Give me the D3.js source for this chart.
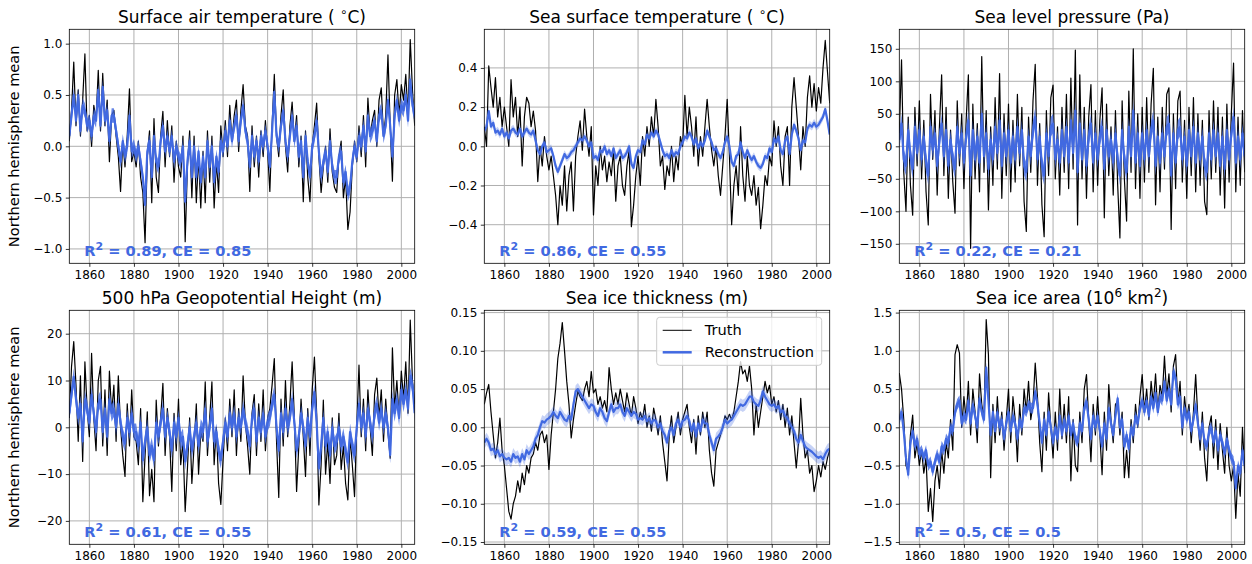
<!DOCTYPE html>
<html lang="en">
<head>
<meta charset="UTF-8">
<title>Northern hemisphere mean reconstructions</title>
<script src="https://d3js.org/d3.v7.min.js"></script>
<style>
  body { margin: 0; background: #fff; }
  text { font-family: "DejaVu Sans", sans-serif; }
</style>
</head>
<body>
<div id="chart"></div>
<script>
// years 1851..2006, one value per year
const startYear = 1851, endYear = 2006;
const years = d3.range(startYear, endYear + 1);
const xTicks = [1860, 1880, 1900, 1920, 1940, 1960, 1980, 2000];

// Surface air temperature (C)
const satTruth = [
  0.05, 0.35, 0.82, 0.2, 0.55, 0.1, 0.45, 0.9, 0.15, 0.3,
  0.0, 0.4, 0.25, 0.74, 0.15, 0.71, 0.2, 0.45, -0.15, 0.3,
  0.35, 0.1, -0.1, -0.44, 0.05, -0.2, 0.1, 0.56, -0.15, -0.05,
  -0.2, 0.05, -0.3, -0.45, -0.94, -0.1, 0.15, -0.55, 0.27, -0.3,
  -0.45, 0.1, 0.34, -0.2, 0.25, -0.1, 0.2, -0.35, 0.05, -0.2,
  -0.3, 0.1, -0.93, -0.2, 0.15, -0.5, 0.1, -0.55, -0.1, -0.6,
  -0.05, -0.55, 0.15, -0.35, 0.1, -0.6, -0.15, -0.45, 0.2, -0.1,
  0.25, -0.1, 0.4, 0.05, 0.3, 0.45, -0.05, 0.35, 0.6, 0.2,
  0.1, -0.44, 0.2, -0.2, 0.1, -0.3, 0.15, -0.1, 0.25, -0.05,
  -0.44, 0.2, 0.7, 0.1, -0.1, 0.3, 0.55, 0.0, -0.25, 0.2,
  0.43, 0.05, 0.3, -0.2, 0.1, -0.54, 0.15, -0.3, -0.54, 0.0,
  0.2, 0.42, -0.1, -0.45, -0.2, 0.0, -0.35, 0.17, -0.25, -0.4,
  -0.45, -0.1, 0.05, -0.5, -0.3, -0.81, -0.64, -0.2, 0.05, -0.15,
  0.2, -0.1, 0.3, -0.2, 0.47, 0.1, 0.25, 0.35, 0.0, 0.45,
  0.57, 0.1, 0.3, 0.89, 0.2, -0.34, 0.5, 0.65, 0.3, 0.6,
  0.45, 0.7, 0.3, 1.04, 0.55, 0.2
];
const satRecon = [
  0.1, 0.3, 0.5, 0.25, 0.5, 0.15, 0.4, 0.35, 0.2, 0.25,
  0.1, 0.3, 0.25, 0.55, 0.2, 0.58, 0.25, 0.35, 0.05, 0.3,
  0.3, 0.15, 0.0, -0.15, 0.05, -0.1, 0.0, 0.3, -0.05, 0.0,
  -0.1, 0.0, -0.15, -0.3, -0.57, -0.05, 0.05, -0.3, 0.1, -0.15,
  -0.2, 0.05, 0.2, -0.05, 0.1, -0.05, 0.1, -0.15, 0.0, -0.1,
  -0.15, 0.0, -0.54, -0.15, 0.05, -0.3, 0.0, -0.3, -0.05, -0.35,
  -0.1, -0.3, 0.05, -0.2, 0.0, -0.35, -0.1, -0.25, 0.05, -0.05,
  0.15, 0.0, 0.25, 0.05, 0.2, 0.3, 0.05, 0.25, 0.4, 0.15,
  0.05, -0.2, 0.1, -0.1, 0.05, -0.15, 0.1, 0.0, 0.15, 0.0,
  -0.2, 0.15, 0.53, 0.1, 0.0, 0.2, 0.35, 0.05, -0.1, 0.1,
  0.3, 0.05, 0.2, -0.1, 0.05, -0.3, 0.1, -0.15, -0.3, 0.0,
  0.1, 0.25, -0.05, -0.3, -0.15, -0.05, -0.25, 0.05, -0.2, -0.3,
  -0.3, -0.1, -0.05, -0.35, -0.25, -0.47, -0.4, -0.15, 0.0, -0.1,
  0.1, 0.0, 0.2, -0.05, 0.3, 0.1, 0.15, 0.25, 0.05, 0.3,
  0.35, 0.1, 0.2, 0.45, 0.2, -0.1, 0.3, 0.45, 0.25, 0.4,
  0.35, 0.5, 0.25, 0.65, 0.4, 0.3
];

// Sea surface temperature (C)
const sstTruth = [
  0.1, 0.0, 0.41, 0.3, 0.2, 0.35, 0.15, 0.25, 0.1, 0.2,
  0.1, 0.0, 0.34, 0.15, 0.25, 0.05, 0.2, -0.1, 0.15, 0.25,
  0.22, 0.1, 0.18, 0.08, -0.18, 0.0, -0.1, 0.05, -0.05, -0.12,
  -0.05, -0.15, -0.25, -0.4, -0.2, -0.3, -0.1, -0.33, -0.15, -0.08,
  -0.33, -0.05, 0.05, 0.13, -0.02, 0.19, 0.05, -0.05, 0.1, -0.35,
  -0.1, -0.2, 0.0, -0.12, -0.05, -0.18, -0.08, -0.15, -0.02, -0.28,
  -0.1, -0.05, -0.2, -0.25, -0.1, -0.02, -0.41, -0.3, -0.15, -0.05,
  -0.2, 0.05, -0.05, 0.1, 0.0, 0.15, 0.05, 0.24, 0.1, -0.1,
  -0.05, -0.22, -0.1, -0.15, 0.0, -0.18, -0.05, -0.12, 0.05, 0.0,
  0.26, 0.05, 0.2, 0.1, -0.05, 0.15, -0.1, 0.05, -0.05, 0.1,
  0.24, 0.1, -0.02, -0.1, 0.0, -0.15, -0.25, -0.1, 0.05, 0.24,
  -0.05, -0.4, -0.2, -0.1, -0.25, 0.1, -0.15, -0.28, -0.05, -0.2,
  -0.25, -0.15, -0.3, -0.21, -0.42, -0.3, -0.15, -0.2, -0.05, -0.1,
  0.13, 0.0, 0.1, -0.1, -0.2, 0.05, 0.1, -0.2, 0.2, 0.35,
  0.2, 0.05, -0.12, 0.1, 0.0, 0.25, 0.36, 0.2, 0.32, 0.18,
  0.3, 0.22, 0.4, 0.54, 0.38, 0.22
];
const sstRecon = [
  0.08, 0.1, 0.18, 0.1, 0.12, 0.07, 0.08, 0.06, 0.09, 0.05,
  0.07, 0.04, 0.08, 0.09, 0.07, 0.06, 0.09, 0.05, 0.07, 0.09,
  0.07, 0.06, 0.08, 0.03, -0.02, -0.04, 0.0, 0.02, -0.03, -0.02,
  -0.01, -0.05, -0.1, -0.13, -0.1, -0.07, -0.04, -0.06, -0.05, -0.03,
  -0.02, 0.0, 0.02, 0.04, 0.03, 0.05, 0.03, 0.0, 0.02, -0.06,
  -0.05, -0.07, -0.02, -0.03, 0.0, -0.04, -0.02, -0.05, -0.01, -0.06,
  -0.04, -0.02, -0.06, -0.05, -0.03, 0.0, -0.09, -0.11, -0.05, -0.02,
  -0.03, 0.03, 0.01, 0.06, 0.04, 0.07, 0.05, 0.08, 0.06, 0.02,
  -0.02, -0.05, -0.04, -0.06, -0.02, -0.05, -0.03, -0.04, 0.0, 0.02,
  0.05, 0.04, 0.07, 0.05, 0.01, 0.04, -0.01, 0.02, 0.0, 0.03,
  0.08, 0.05, 0.02, -0.02, -0.01, -0.04, -0.06, -0.03, 0.02, 0.05,
  0.0, -0.08, -0.1, -0.05, -0.04, 0.02, -0.03, -0.06, -0.02, -0.05,
  -0.07, -0.05, -0.08, -0.1, -0.11, -0.09, -0.05, -0.06, -0.01, -0.03,
  0.04, 0.02, 0.05, -0.02, -0.04, 0.03, 0.05, -0.04, 0.06, 0.11,
  0.08, 0.04, -0.02, 0.03, 0.02, 0.09, 0.11, 0.1, 0.12, 0.1,
  0.11, 0.13, 0.15, 0.19, 0.13, 0.06
];

// Sea level pressure (Pa)
const slpTruth = [
  20, 133, -40, -100, 45, -60, -106, 60, -30, 70,
  -50, 40, -70, -121, 80, -20, 55, -75, 30, 110,
  -45, 60, -80, 25, -55, -103, 70, -30, 50, -65,
  40, 110, -157, 65, -50, 35, -70, 138, -40, 55,
  -98, 30, -60, 75, -35, 112, -80, 50, -45, 65,
  -70, 40, -55, 80, -30, 60, -85, -131, 45, -40,
  70, 126, -60, 35, -90, -139, 55, -45, 75, 94,
  -50, 30, -75, 60, -40, 80, -65, 105, -35, 148,
  -121, 110, -50, 60, -80, 45, 95, -70, 55, -60,
  40, 90, -110, 65, -45, 30, -75, 55, -60, -141,
  70, -50, -115, 85, -40, 150, -65, 50, -80, 60,
  -55, 75, -40, 65, 120, -90, 45, -70, 60, -35,
  80, 90, -128, 50, -65, 70, 85, -55, 40, -80,
  60, -45, 75, -70, 50, -60, 40, -85, -105, 55,
  -50, 70, -40, 60, -75, 45, -95, 65, -55, 50,
  128, -70, 45, -60, 55, -40
];
const slpRecon = [
  10, 35, -20, -30, 25, -15, -35, 30, -10, 25,
  -20, 15, -25, -45, 30, -5, 20, -30, 10, 35,
  -15, 25, -30, 10, -20, -35, 30, -10, 20, -25,
  15, 40, -45, 25, -20, 15, -25, 50, -15, 20,
  -35, 10, -20, 30, -10, 40, -30, 20, -15, 25,
  -25, 15, -20, 30, -10, 25, -30, -40, 15, -15,
  25, 45, -20, 15, -30, -45, 20, -15, 30, 35,
  -20, 10, -25, 25, -15, 30, -25, 40, -10, 55,
  -40, 35, -20, 25, -30, 15, 35, -25, 20, -20,
  15, 30, -35, 25, -15, 10, -25, 20, -20, -45,
  25, -20, -40, 30, -15, 55, -25, 20, -30, 20,
  -20, 25, -15, 25, 40, -30, 15, -25, 20, -15,
  30, 35, -45, 20, -25, 25, 30, -20, 15, -30,
  25, -15, 30, -25, 20, -20, 15, -30, -40, 20,
  -20, 25, -15, 20, -30, 15, -35, 25, -20, 20,
  45, -25, 15, -20, 20, -15
];

// 500 hPa geopotential height (m)
const gphTruth = [
  2, 13, 18.3, 9, -3, 11, -7.3, 14, 4, -2,
  15.8, 2, -5, 10, 13, -4, 8, -6, 12, 3,
  9, -3, 11, 0, -6, -10.5, 5, -4, 8, -2,
  -3, -8, 4, -15.9, -6, 3.3, -14.6, -9, -15.9, 5.8,
  -4, 2, 9.4, -6, 4, -2, -13.7, 3, -5, 6,
  -8, -3, -18, -9, 2, -12, -4, 5, -10, -1,
  -3, 9.7, -6, 2, 9.7, -8, 0, -12, -16.5, -7,
  2, -5, 6, -2, 8, -6, 4, -3, 11, 1,
  -4, -10, 3, 7, -6, 5, -3, 8, -5, 2,
  4, 9, 14.7, -3, -15, 6, -4, 10, -2, 5,
  14, 2, -13.7, -4, 6, -2, -10.5, 4, -6, 8,
  15, 3, -16.6, -8, 5.8, -10, -3, -12, 2, -8,
  -6, 3, -9, -4, -12, -15.5, -2, -8, -14.8, 0,
  13.3, -2, 6, -5, 8, 0, -6, 7, 10.5, 2,
  8, -3, 6, -1, -6.6, 17, 4, 10, 2, 12,
  6, 14, 3, 22.9, 10, 5
];
const gphRecon = [
  3, 7, 10.8, 6, 2, 5, -3, 6, 4, 1,
  7, 3, -1, 5, 6, -1, 4, -2, 6, 3,
  4, 0, 5, 1, -2, -3.5, 2, -1, 3, -1,
  -1, -4, 1, -7, -3, 0, -6, -4, -7, 1,
  -2, 1, 4, -2, 2, -1, -5, 1, -2, 2,
  -3, -2, -7.3, -4, 0, -5, -2, 1, -4, 0,
  -1, 4, -3, 0, 4, -3, -1, -5, -7, -3,
  1, -2, 3, 0, 3, -2, 2, 0, 4, 1,
  -1, -4, 2, 4, -3, 2, -1, 3, -2, 1,
  2, 5, 7, 0, -5, 3, -1, 4, 0, 2,
  6, 1, -5, -2, 3, 0, -4, 2, -2, 4,
  7.5, 1, -8.8, -4, 2, -4, -1, -6, 0, -4,
  -3, 0, -4, -2, -5, -7.5, -1, -4, -6, 0,
  5, 0, 3, -2, 4, 1, -2, 3, 5, 1,
  4, 0, 3, 0, -5.9, 6, 3, 6, 2, 8,
  5, 8, 4, 11, 9, 3
];

// Sea ice thickness (m)
const sitTruth = [
  0.03, 0.045, 0.056, 0.02, -0.01, -0.04, -0.02, 0.012, -0.03, -0.05,
  -0.08, -0.11, -0.12, -0.1, -0.09, -0.07, -0.085, -0.06, -0.075, -0.05,
  -0.06, -0.04, -0.035, -0.02, -0.03, -0.01, -0.005, -0.02, -0.01, -0.055,
  -0.01, 0.02, 0.05, 0.09, 0.11, 0.137, 0.1, 0.06, 0.03, -0.014,
  0.01, 0.03, 0.047, 0.04, 0.035, 0.05, 0.06, 0.04, 0.073, 0.045,
  0.05, 0.03, 0.04, 0.025, 0.035, 0.02, 0.078, 0.05, 0.03, 0.045,
  0.03, 0.05, 0.035, 0.02, 0.045, 0.03, 0.015, 0.04, 0.025, 0.005,
  0.02, 0.01, 0.03, 0.0, 0.015, -0.005, 0.025, 0.01, -0.01, 0.015,
  -0.02, -0.045, -0.07, -0.01, 0.015, -0.02, 0.0, 0.02, -0.01, 0.01,
  0.02, 0.03, 0.0, -0.02, 0.01, -0.035, 0.015, -0.01, 0.02, 0.0,
  0.02, -0.03, -0.06, -0.077, -0.03, -0.02, -0.01, 0.0, 0.015, 0.01,
  0.017, 0.01, 0.02, 0.04, 0.06, 0.086, 0.07, 0.075, 0.06, 0.08,
  0.05, -0.01, 0.03, 0.0, 0.02, 0.04, 0.06, 0.045, 0.055, 0.03,
  0.04, 0.02, 0.035, 0.01, 0.03, 0.0, 0.025, -0.01, 0.015, -0.02,
  -0.053, -0.02, 0.038, -0.01, -0.04, -0.03, -0.06, -0.05, -0.084, -0.07,
  -0.05, -0.065, -0.045, -0.055, -0.04, -0.03
];
const sitRecon = [
  -0.02, -0.015, -0.02, -0.03, -0.028, -0.035, -0.03, -0.038, -0.035, -0.04,
  -0.042, -0.04, -0.045, -0.035, -0.04, -0.038, -0.045, -0.035, -0.042, -0.03,
  -0.035, -0.03, -0.025, -0.015, -0.01, 0.0, 0.008, 0.006, 0.01, 0.012,
  0.015, 0.02, 0.015, 0.012, 0.02, 0.015, 0.01, 0.008, 0.015, 0.01,
  0.03, 0.047, 0.05, 0.045, 0.04, 0.035, 0.03, 0.025, 0.03, 0.028,
  0.02, 0.015, 0.025, 0.02, 0.012, 0.008, 0.02, 0.03, 0.02, 0.025,
  0.025, 0.03, 0.02, 0.015, 0.025, 0.02, 0.015, 0.02, 0.018, 0.01,
  0.012, 0.01, 0.015, 0.008, 0.012, 0.005, 0.01, 0.008, 0.0, 0.005,
  -0.005, -0.01, -0.02, -0.005, 0.0, -0.01, 0.005, 0.01, 0.0, 0.008,
  0.01, 0.015, 0.008, -0.005, 0.005, -0.012, 0.005, -0.005, 0.01, 0.005,
  0.005, -0.01, -0.02, -0.03, -0.015, -0.012, -0.008, 0.0, 0.01, 0.005,
  0.008, 0.01, 0.015, 0.02, 0.025, 0.03, 0.028, 0.03, 0.035, 0.04,
  0.04, 0.033, 0.03, 0.028, 0.035, 0.047, 0.04, 0.035, 0.03, 0.028,
  0.03, 0.025, 0.028, 0.02, 0.022, 0.015, 0.012, 0.005, 0.0, -0.005,
  -0.015, -0.02, -0.01, -0.018, -0.025, -0.028, -0.03, -0.032, -0.035, -0.038,
  -0.04, -0.038, -0.042, -0.035, -0.03, -0.028
];

// Sea ice area (10^6 km2)
const siaTruth = [
  0.71, 0.5, 0.1, -0.5, -0.58, -0.1, 0.16, -0.4, -0.2, -0.5,
  -0.3, -0.6, -0.4, -1.1, -0.8, -1.23, -0.7, -0.5, -0.8, -0.3,
  -0.6, -0.2, -0.4, 0.1, -0.3, 0.95, 1.08, 0.97, 0.0, 0.4,
  0.1, 0.6, -0.1, 0.5, 0.2, -0.2, 0.7, 0.3, 0.1, 1.41,
  0.95, -0.66, 0.3, -0.2, 0.4, -0.1, 0.2, -0.3, 0.1, 0.5,
  -0.2, 0.4, 0.1, -0.45, 0.3, -0.1, 0.5, 0.2, 0.6, 0.1,
  0.3, 0.84, 0.4, -0.2, -0.58, 0.2, -0.3, 0.45, 0.0, -0.4,
  0.2, -0.3, 0.5, -0.15, 0.3, -0.2, 0.4, -0.7, 0.1, -0.5,
  -0.58, 0.2, -0.2, 0.5, 0.69, 0.1, -0.45, 0.3, -0.1, 0.4,
  -0.1, -0.62, 0.2, -0.3, 0.56, 0.1, -0.2, 0.3, 0.34, -0.1,
  0.2, -0.66, -0.3, -0.66, 0.1, -0.2, 0.3, 0.0, 0.4, 0.69,
  0.2, 0.5, 0.1, 0.6, 0.3, 0.7, 0.2, 0.55, 0.4, 0.93,
  0.4, 0.7, 0.2, 0.8, 0.95, 0.3, 0.6, -0.1, 0.4, 0.1,
  0.3, -0.2, 0.2, 0.69, 0.1, -0.3, 0.2, -0.4, -0.7, 0.0,
  0.15, -0.4, 0.1, -0.55, 0.05, -0.3, -0.6, 0.0, -0.5, -0.7,
  -0.5, -1.19, -0.6, -0.9, 0.0, -0.6
];
const siaRecon = [
  0.1, 0.2, -0.05, -0.4, -0.62, -0.2, -0.05, -0.25, -0.15, -0.35,
  -0.3, -0.4, -0.3, -0.5, -0.45, -0.58, -0.45, -0.35, -0.45, -0.25,
  -0.3, -0.15, -0.2, 0.0, -0.05, 0.2, 0.3, 0.35, 0.05, 0.15,
  0.1, 0.35, 0.05, 0.3, 0.15, 0.0, 0.38, 0.2, 0.1, 0.78,
  0.35, -0.1, 0.2, -0.05, 0.2, 0.0, 0.1, -0.15, 0.05, 0.2,
  -0.05, 0.15, 0.05, -0.15, 0.1, 0.0, 0.25, 0.2, 0.3, 0.25,
  0.25, 0.47, 0.3, 0.05, -0.2, 0.1, -0.1, 0.2, 0.0, -0.2,
  0.0, -0.15, 0.15, -0.1, 0.1, -0.05, 0.15, -0.1, 0.05, -0.15,
  -0.2, 0.05, -0.05, 0.25, 0.34, 0.1, -0.15, 0.15, 0.0, 0.15,
  -0.05, -0.25, 0.05, -0.15, 0.25, 0.05, -0.1, 0.15, 0.38, 0.0,
  0.1, -0.25, -0.1, -0.28, 0.0, -0.1, 0.15, 0.05, 0.25, 0.35,
  0.2, 0.35, 0.15, 0.4, 0.25, 0.45, 0.2, 0.4, 0.35, 0.6,
  0.35, 0.5, 0.3, 0.73, 0.65, 0.3, 0.4, 0.0, 0.25, 0.1,
  0.2, -0.05, 0.1, 0.3, 0.05, -0.15, 0.05, -0.2, -0.25, -0.05,
  0.0, -0.2, -0.05, -0.3, -0.1, -0.2, -0.35, -0.15, -0.3, -0.4,
  -0.45, -0.8, -0.5, -0.6, -0.3, -0.5
];

// ensemble spread (half width) of each reconstruction
const reconSpread = [0.07, 0.02, 15, 1.8, 0.008, 0.07];
const r2Values = [0.89, 0.86, 0.22, 0.61, 0.59, 0.5];
const ceValues = [0.85, 0.55, 0.21, 0.55, 0.55, 0.5];
const yLimits = [1.14, 0.597, 180, 25, 0.153, 1.53];
const yTickLists = [
  [-1.0, -0.5, 0.0, 0.5, 1.0],
  [-0.4, -0.2, 0.0, 0.2, 0.4],
  [-150, -100, -50, 0, 50, 100, 150],
  [-20, -10, 0, 10, 20],
  [-0.15, -0.10, -0.05, 0.00, 0.05, 0.10, 0.15],
  [-1.5, -1.0, -0.5, 0.0, 0.5, 1.0, 1.5]
];
const yFormats = [".1f", ".1f", "d", "d", ".2f", ".1f"];

const panels = [
  { title: [["Surface air temperature ( "], ["\u2218", "sup"], ["C)"]], truth: satTruth, recon: satRecon },
  { title: [["Sea surface temperature ( "], ["\u2218", "sup"], ["C)"]], truth: sstTruth, recon: sstRecon },
  { title: [["Sea level pressure (Pa)"]], truth: slpTruth, recon: slpRecon },
  { title: [["500 hPa Geopotential Height (m)"]], truth: gphTruth, recon: gphRecon },
  { title: [["Sea ice thickness (m)"]], truth: sitTruth, recon: sitRecon },
  { title: [["Sea ice area (10"], ["6", "sup"], [" km"], ["2", "sup"], [")"]], truth: siaTruth, recon: siaRecon }
];

// noisy panels get a dense band, smooth ones a light one
const bandOpacity = [0.8, 0.3, 0.8, 0.8, 0.3, 0.8];

const W = 1252, H = 564;
const colLeft = [69.3, 484.3, 899.3];
const rowTop = [29.3, 310.3];
const pw = 345.4, ph = 234;
const blue = "#4169e1";

const svg = d3.select("#chart").append("svg")
  .attr("width", W).attr("height", H);

function richText(sel, parts, supSize) {
  parts.forEach(p => {
    const t = sel.append("tspan").text(p[0]);
    if (p[1] === "sup") t.attr("baseline-shift", "super").attr("font-size", supSize);
  });
}

panels.forEach((p, i) => {
  const col = i % 3, row = Math.floor(i / 3);
  const left = colLeft[col], top = rowTop[row];

  const x = d3.scaleLinear().domain([startYear, endYear]).range([left, left + pw]);
  const y = d3.scaleLinear().domain([-yLimits[i], yLimits[i]]).range([top + ph, top]);

  const g = svg.append("g");

  g.append("clipPath").attr("id", "clip" + i)
    .append("rect").attr("x", left).attr("y", top).attr("width", pw).attr("height", ph);

  // grid
  g.append("g")
    .selectAll("line.vg").data(xTicks).enter().append("line")
    .attr("x1", d => x(d)).attr("x2", d => x(d))
    .attr("y1", top).attr("y2", top + ph)
    .attr("stroke", "#b0b0b0").attr("stroke-width", 1);
  g.append("g")
    .selectAll("line.hg").data(yTickLists[i]).enter().append("line")
    .attr("x1", left).attr("x2", left + pw)
    .attr("y1", d => y(d)).attr("y2", d => y(d))
    .attr("stroke", "#b0b0b0").attr("stroke-width", 1);

  const plot = g.append("g").attr("clip-path", "url(#clip" + i + ")");

  const line = d3.line().x((d, k) => x(years[k])).y(d => y(d));
  const band = d3.area()
    .x((d, k) => x(years[k]))
    .y0(d => y(d - reconSpread[i]))
    .y1(d => y(d + reconSpread[i]));

  plot.append("path").datum(p.truth)
    .attr("d", line).attr("fill", "none")
    .attr("stroke", "#000").attr("stroke-width", 1.2).attr("stroke-linejoin", "round");
  plot.append("path").datum(p.recon)
    .attr("d", band).attr("fill", blue).attr("fill-opacity", bandOpacity[i]);
  plot.append("path").datum(p.recon)
    .attr("d", line).attr("fill", "none")
    .attr("stroke", blue).attr("stroke-width", 2.2).attr("stroke-linejoin", "round");

  // axes
  const xAxis = d3.axisBottom(x).tickValues(xTicks).tickFormat(d3.format("d")).tickSize(3.5).tickPadding(3.5);
  const yAxis = d3.axisLeft(y).tickValues(yTickLists[i]).tickFormat(d3.format(yFormats[i])).tickSize(3.5).tickPadding(3.5);
  const xa = g.append("g").attr("transform", `translate(0,${top + ph})`).call(xAxis);
  const ya = g.append("g").attr("transform", `translate(${left},0)`).call(yAxis);
  [xa, ya].forEach(a => {
    a.select(".domain").remove();
    a.selectAll("text").attr("font-size", 12).attr("fill", "#000")
      .attr("font-family", "DejaVu Sans, sans-serif");
    a.selectAll("line").attr("stroke", "#000").attr("stroke-width", 0.8);
  });

  g.append("rect").attr("x", left).attr("y", top).attr("width", pw).attr("height", ph)
    .attr("fill", "none").attr("stroke", "#000").attr("stroke-width", 0.8);

  // title
  const tt = g.append("text").attr("x", left + pw / 2).attr("y", top - 6)
    .attr("text-anchor", "middle").attr("font-size", 17).attr("fill", "#000");
  richText(tt, p.title, 12);

  // score
  const st = g.append("text").attr("x", left + 15).attr("y", top + ph - 7)
    .attr("font-size", 14.6).attr("font-weight", "bold").attr("fill", blue);
  richText(st, [["R"], ["2", "sup"], [" = " + r2Values[i] + ", CE = " + ceValues[i]]], 11);

  if (col === 0) {
    g.append("text")
      .attr("transform", `translate(${left - 50},${top + ph / 2}) rotate(-90)`)
      .attr("text-anchor", "middle").attr("font-size", 14.6).attr("fill", "#000")
      .text("Northern hemisphere mean");
  }

  // legend in the sea ice thickness panel
  if (i === 4) {
    const lw = 165, lh = 48;
    const lx = left + pw - 8 - lw, ly = top + 7;
    const lg = g.append("g");
    lg.append("rect").attr("x", lx).attr("y", ly).attr("width", lw).attr("height", lh)
      .attr("rx", 3).attr("fill", "#fff").attr("fill-opacity", 0.8)
      .attr("stroke", "#cccccc").attr("stroke-width", 1);
    const items = [["Truth", "#000", 1], ["Reconstruction", blue, 2.5]];
    items.forEach((it, k) => {
      const cy = ly + 13 + k * 22;
      lg.append("line").attr("x1", lx + 6).attr("x2", lx + 35).attr("y1", cy).attr("y2", cy)
        .attr("stroke", it[1]).attr("stroke-width", it[2]);
      lg.append("text").attr("x", lx + 48).attr("y", cy + 5).attr("font-size", 14.6)
        .attr("fill", "#000").text(it[0]);
    });
  }
});
</script>
</body>
</html>
